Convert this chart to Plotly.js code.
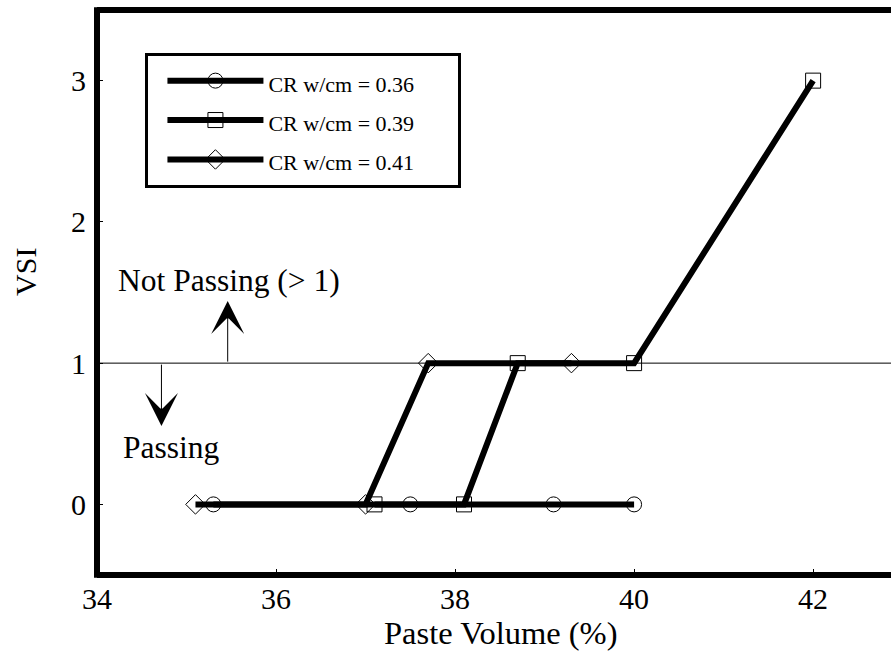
<!DOCTYPE html>
<html><head><meta charset="utf-8">
<script src="https://cdn.plot.ly/plotly-3.0.1.min.js"></script>
<style>html,body{margin:0;padding:0;background:#fff;overflow:hidden}</style>
</head><body><div id="chart" style="width:891px;height:664px"></div>
<script>
// VSI versus paste volume for three w/cm ratios
const seriesNames = ['CR w/cm = 0.36', 'CR w/cm = 0.39', 'CR w/cm = 0.41'];
const paste036 = [35.3, 37.5, 39.1, 40.0];
const vsi036   = [0, 0, 0, 0];
const paste039 = [37.1, 38.1, 38.7, 40.0, 42.0];
const vsi039   = [0, 0, 1, 1, 3];
const paste041 = [35.1, 37.0, 37.7, 39.3];
const vsi041   = [0, 0, 1, 1];
const xTicks = [34, 36, 38, 40, 42];
const yTicks = [0, 1, 2, 3];
const passLimit = 1;

const serif = '"Liberation Serif", "Times New Roman", Times, serif';
const symbols = ['circle-open', 'square-open', 'diamond-open'];
const xs = [paste036, paste039, paste041];
const ys = [vsi036, vsi039, vsi041];
const pad = '&nbsp;'.repeat(7);

const traces = seriesNames.map((name, i) => ({
  type: 'scatter', mode: 'lines+markers',
  name: '<span style="font-size:22px">' + name + pad + '</span>',
  x: xs[i], y: ys[i], legendgroup: 'g' + i,
  line: {color: '#000', width: 6},
  marker: {symbol: symbols[i], size: 15, color: '#000', line: {color: '#000', width: 1}}
}));

const layout = {
  width: 891, height: 664,
  margin: {l: 97, r: 0, t: 10, b: 89},
  paper_bgcolor: '#fff', plot_bgcolor: '#fff',
  font: {family: serif, color: '#000', size: 30},
  showlegend: true,
  legend: {
    x: 0.061, y: 0.924, xanchor: 'left', yanchor: 'top',
    bgcolor: '#fff', bordercolor: '#000', borderwidth: 3,
    font: {family: serif, size: 28, color: '#000'},
    traceorder: 'grouped', tracegroupgap: 0, itemwidth: 96, indentation: 14
  },
  xaxis: {
    range: [34, 42.87], tickvals: xTicks, ticktext: xTicks.map(String),
    ticks: 'inside', ticklen: 6, tickwidth: 1, tickcolor: '#000',
    showgrid: false, zeroline: false, showline: false,
    tickfont: {family: serif, size: 30}, ticklabelstandoff: 3
  },
  yaxis: {
    range: [-0.5, 3.5], tickvals: yTicks, ticktext: yTicks.map(String),
    ticks: 'inside', ticklen: 6, tickwidth: 1, tickcolor: '#000',
    showgrid: false, zeroline: false, showline: false,
    tickfont: {family: serif, size: 30}, ticklabelstandoff: 10
  },
  shapes: [
    // pass / fail threshold
    {type: 'line', xref: 'paper', x0: 0, x1: 1, yref: 'y', y0: passLimit, y1: passLimit,
     line: {color: '#000', width: 1}},
    // heavy frame on left, bottom and top
    {type: 'line', xref: 'paper', yref: 'paper', x0: 0, x1: 0, y0: -0.005, y1: 1.005, line: {color: '#000', width: 6}},
    {type: 'line', xref: 'paper', yref: 'paper', x0: 0, x1: 1, y0: 0, y1: 0, line: {color: '#000', width: 6}},
    {type: 'line', xref: 'paper', yref: 'paper', x0: 0, x1: 1, y0: 1, y1: 1, line: {color: '#000', width: 6}}
  ],
  annotations: [
    // axis titles
    {text: 'VSI', textangle: -90, xref: 'paper', yref: 'paper', x: -0.091, y: 0.536,
     xanchor: 'center', yanchor: 'middle', showarrow: false, font: {family: serif, size: 30}},
    {text: 'Paste Volume (%)', xref: 'paper', yref: 'paper', x: 0.5094, y: -0.1027,
     xanchor: 'center', yanchor: 'middle', showarrow: false, font: {family: serif, size: 32.5}},
    // pass / fail notes
    {text: 'Not Passing (> 1)', x: 35.48, y: 1.585, xref: 'x', yref: 'y', showarrow: false,
     font: {family: serif, size: 31.5}},
    {text: '', x: 35.46, y: 1.44, ax: 35.46, ay: passLimit, axref: 'x', ayref: 'y', xref: 'x', yref: 'y',
     showarrow: true, arrowhead: 3, arrowsize: 5.5, arrowwidth: 1, arrowcolor: '#000'},
    {text: 'Passing', x: 34.83, y: 0.40, xref: 'x', yref: 'y', showarrow: false,
     font: {family: serif, size: 31.5}},
    {text: '', x: 34.72, y: 0.555, ax: 34.72, ay: passLimit, axref: 'x', ayref: 'y', xref: 'x', yref: 'y',
     showarrow: true, arrowhead: 3, arrowsize: 5.5, arrowwidth: 1, arrowcolor: '#000'}
  ]
};

Plotly.newPlot('chart', traces, layout, {displayModeBar: false, staticPlot: true});
</script></body></html>
